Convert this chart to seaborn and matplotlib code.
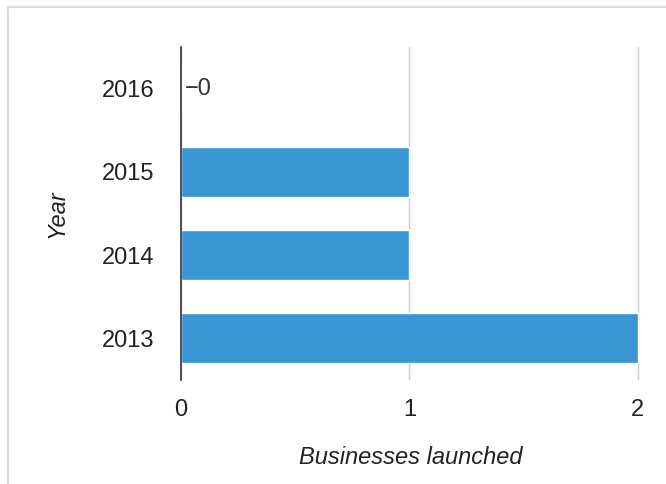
import matplotlib.pyplot as plt
import seaborn as sns
import pandas as pd
from matplotlib.patches import Rectangle

# Chart data
years = ["2016", "2015", "2014", "2013"]
launched = [0, 1, 1, 2]
x_ticks = [0, 1, 2]

df = pd.DataFrame({"Year": years, "Businesses launched": launched})

sns.set_style("white")
plt.rcParams["font.family"] = ["Liberation Sans", "DejaVu Sans"]

fig = plt.figure(figsize=(6.66, 4.84), dpi=100)
ax = fig.add_axes([181 / 666, 1 - 380 / 484, (640 - 181) / 666, (380 - 47) / 484])

sns.barplot(data=df, x="Businesses launched", y="Year", order=years,
            orient="h", color="#3996d3", saturation=1, width=0.6, ax=ax)

# zero bar gets a "−0" label like the original
labels = ["\u22120" if v == 0 else "" for v in launched]
ax.bar_label(ax.containers[0], labels=labels, padding=3,
             fontsize=17, color="#333333")

ax.set_xlim(0, 2.01)
ax.set_ylim(3.5, -0.5)
ax.set_xticks(x_ticks)
ax.set_xticklabels([str(t) for t in x_ticks])
ax.xaxis.grid(True, color="#cccccc", linewidth=1)
ax.set_axisbelow(True)
for side in ["top", "right", "bottom"]:
    ax.spines[side].set_visible(False)
ax.spines["left"].set_color("#333333")
ax.spines["left"].set_linewidth(1.2)
ax.tick_params(axis="both", length=0, labelsize=17, labelcolor="#222222")
ax.tick_params(axis="x", pad=14)
ax.tick_params(axis="y", pad=19)

ax.set_xlabel("Businesses launched", fontsize=17, style="italic",
              color="#222222", labelpad=18)
ax.set_ylabel("Year", fontsize=17, style="italic", color="#222222",
              labelpad=24)

# light frame around the chart card
fig.patches.append(Rectangle((7.5 / 666, -0.1), 1.2, 1.1 - 7.5 / 484,
                             transform=fig.transFigure, fill=False,
                             edgecolor="#dddddd", linewidth=1.5))

plt.savefig("out.png", dpi=100)
